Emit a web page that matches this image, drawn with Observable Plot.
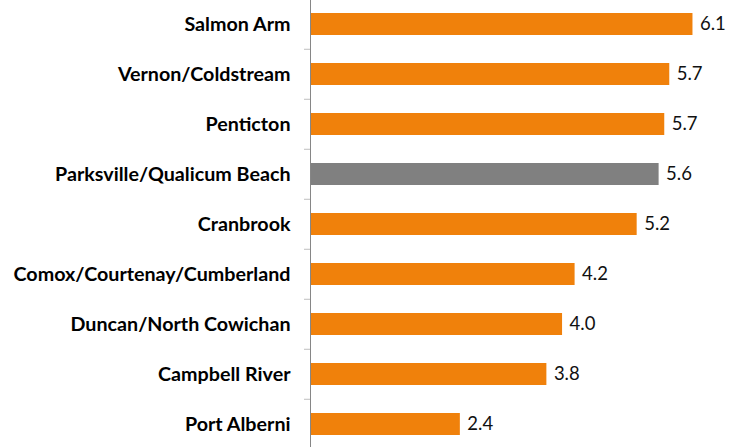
<!DOCTYPE html>
<html>
<head>
<meta charset="utf-8">
<script src="https://cdn.jsdelivr.net/npm/d3@7"></script>
<script src="https://cdn.jsdelivr.net/npm/@observablehq/plot@0.6"></script>
<style>
  html, body { margin: 0; padding: 0; background: #fff; }
</style>
</head>
<body>
<div id="chart"></div>
<script>
const categories = [
  "Salmon Arm",
  "Vernon/Coldstream",
  "Penticton",
  "Parksville/Qualicum Beach",
  "Cranbrook",
  "Comox/Courtenay/Cumberland",
  "Duncan/North Cowichan",
  "Campbell River",
  "Port Alberni"
];
const values = [6.10, 5.73, 5.65, 5.56, 5.21, 4.22, 4.02, 3.77, 2.39];
const highlighted = ["Parksville/Qualicum Beach"];

const data = categories.map((name, i) => ({name, value: values[i]}));

const orange = "#f0810b";
const gray = "#808080";
const step = 50.44;
const top0 = 22 - step / 2;

const chart = Plot.plot({
  width: 743,
  height: 447,
  marginTop: 0,
  marginBottom: 0,
  marginLeft: 310,
  marginRight: 0,
  style: {fontFamily: "Lato, 'Open Sans', sans-serif", background: "#fff"},
  x: {domain: [0, 6.8], range: [310, 310 + 6.8 * 62.7], axis: null},
  y: {
    domain: categories,
    range: [top0, top0 + 9 * step],
    paddingInner: 0.57,
    paddingOuter: 0.285,
    axis: null
  },
  marks: [
    Plot.barX(data, {
      x: "value",
      y: "name",
      fill: d => highlighted.includes(d.name) ? gray : orange
    }),
    Plot.text(data, {
      x: "value",
      y: "name",
      text: d => d.value.toFixed(1),
      textAnchor: "start",
      dx: 7,
      fontSize: 18.5,
      fill: "#111"
    }),
    Plot.axisY({
      tickSize: 6,
      tickFormat: () => "",
      dy: -step / 2,
      stroke: "#bfbfbf",
      label: null
    }),
    Plot.axisY({
      tickSize: 0,
      tickPadding: 20,
      fontSize: 19.7,
      fontWeight: "bold",
      fill: "#000",
      label: null
    }),
    Plot.ruleX([0], {stroke: "#868686", strokeWidth: 1})
  ]
});
document.getElementById("chart").appendChild(chart);
</script>
</body>
</html>
